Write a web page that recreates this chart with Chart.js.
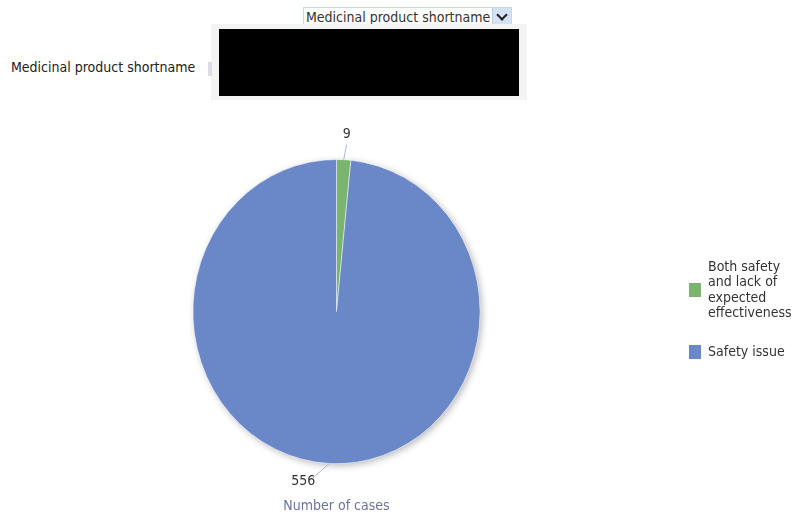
<!DOCTYPE html>
<html>
<head>
<meta charset="utf-8">
<script src="https://cdn.jsdelivr.net/npm/chart.js@4/dist/chart.umd.min.js"></script>
<style>
  html, body { margin: 0; padding: 0; background: #fff; }
  body { width: 792px; height: 515px; position: relative; overflow: hidden;
         font-family: "DejaVu Sans Condensed", "Liberation Sans Narrow", "Noto Sans", sans-serif; color: #333; }
  #wrap { position: absolute; left: 0; top: 0; width: 792px; height: 515px; }
  .dropdown { position: absolute; left: 303px; top: 7px; width: 207px; height: 18px;
              border: 1px solid #c6d6ec; font-size: 14px; line-height: 18px; color: #333; }
  .dropdown span { position: absolute; left: 2px; top: 0; }
  .dropdown .btn { position: absolute; right: 0; top: 0; width: 18px; height: 18px; background: #d3e2f5;
                   border-left: 1px solid #b9cce6; }
  .dropdown .btn i { position: absolute; left: 5px; top: 3px; width: 6px; height: 6px;
                     border-right: 2px solid #222; border-bottom: 2px solid #222; transform: rotate(45deg); }
  .prompt { position: absolute; left: 11px; top: 59px; font-size: 14px; color: #222; }
  .tab { position: absolute; left: 208px; top: 62px; width: 4px; height: 14px; background: #d9dde3; }
  .frame { position: absolute; left: 211px; top: 24px; width: 316px; height: 76px; background: #f3f3f3; }
  .blackout { position: absolute; left: 219px; top: 29px; width: 300px; height: 67px; background: #000; }
  #legend { position: absolute; left: 689px; top: 259px; font-size: 14px; line-height: 15.3px; color: #333; }
  .item { position: relative; padding-left: 19px; margin-bottom: 24px; }
  .item b { position: absolute; left: 0; width: 12px; height: 14px; }
</style>
</head>
<body>
<div class="dropdown"><span>Medicinal product shortname</span><div class="btn"><i></i></div></div>
<div class="prompt">Medicinal product shortname</div>
<div class="frame"></div>
<div class="tab"></div>
<div class="blackout"></div>
<div id="wrap"><canvas id="myChart" width="792" height="515"></canvas></div>
<div id="legend"></div>
<script>
const categories = ['Both safety and lack of expected effectiveness', 'Safety issue'];
const legendLines = [['Both safety', 'and lack of', 'expected', 'effectiveness'], ['Safety issue']];
const cases = [9, 556];
const colors = ['#79b56f', '#6a87c7'];
const seriesTitle = 'Number of cases';

// the reference pie is a bit narrower than tall
const SX = 0.944;
const FONT = '"DejaVu Sans Condensed", "Liberation Sans Narrow", sans-serif';

const squash = {
    id: 'squash',
    beforeDatasetsDraw(chart) {
        const ctx = chart.ctx;
        const arc = chart.getDatasetMeta(0).data[0];
        const cx = arc.x, cy = arc.y, r = arc.outerRadius;
        ctx.save();
        ctx.save();
        ctx.shadowColor = 'rgba(0,0,0,0.28)';
        ctx.shadowBlur = 7;
        ctx.shadowOffsetX = 2;
        ctx.shadowOffsetY = 2;
        ctx.fillStyle = '#fff';
        ctx.beginPath();
        ctx.ellipse(cx, cy, r * SX, r, 0, 0, Math.PI * 2);
        ctx.fill();
        ctx.restore();
        ctx.translate(cx, 0);
        ctx.scale(SX, 1);
        ctx.translate(-cx, 0);
    },
    afterDatasetsDraw(chart) {
        chart.ctx.restore();
    }
};

const outLabels = {
    id: 'outLabels',
    afterDraw(chart) {
        const ctx = chart.ctx;
        const meta = chart.getDatasetMeta(0);
        ctx.save();
        ctx.font = '14px ' + FONT;
        ctx.fillStyle = '#333';
        ctx.strokeStyle = '#a9b9d9';
        ctx.lineWidth = 1;
        meta.data.forEach((arc, i) => {
            const mid = (arc.startAngle + arc.endAngle) / 2;
            const sx = arc.x + Math.cos(mid) * arc.outerRadius * SX;
            const sy = arc.y + Math.sin(mid) * arc.outerRadius;
            const side = Math.cos(mid) >= 0 ? 1 : -1;
            const below = Math.sin(mid) > 0;
            let ex, ey;
            if (below) {
                ex = sx + side * 17; ey = sy + 15;
                ctx.textAlign = side > 0 ? 'left' : 'right';
                ctx.textBaseline = 'top';
            } else {
                ex = sx + side * 3; ey = sy - 15;
                ctx.textAlign = 'center';
                ctx.textBaseline = 'bottom';
            }
            ctx.beginPath();
            ctx.moveTo(sx, sy);
            ctx.lineTo(ex, ey);
            ctx.stroke();
            const ty = below ? ey - 4 : ey - 3;
            const tx = below ? ex - side * 3 : ex;
            ctx.fillText(String(chart.data.datasets[0].data[i]), tx, ty);
        });
        ctx.restore();
    }
};

const config = {
    type: 'pie',
    data: {
        labels: categories,
        datasets: [{
            label: seriesTitle,
            data: cases,
            backgroundColor: colors,
            borderColor: 'rgba(255,255,255,0.5)',
            borderWidth: 1
        }]
    },
    options: {
        responsive: false,
        animation: false,
        layout: { padding: { top: 159, bottom: 0, left: 0, right: 119 } },
        plugins: {
            legend: { display: false },
            tooltip: { enabled: false },
            title: {
                display: true,
                position: 'bottom',
                text: seriesTitle,
                color: '#6b73a3',
                font: { family: FONT, size: 14, weight: 'normal' },
                padding: { top: 34, bottom: 0 }
            }
        }
    },
    plugins: [squash, outLabels]
};

const myChart = new Chart(document.getElementById('myChart'), config);

// legend built from the same arrays
const legend = document.getElementById('legend');
categories.forEach((c, i) => {
    const item = document.createElement('div');
    item.className = 'item';
    item.title = c;
    const box = document.createElement('b');
    box.style.background = colors[i];
    box.style.top = (legendLines[i].length > 1 ? 24 : 1) + 'px';
    item.appendChild(box);
    item.innerHTML += legendLines[i].join('<br>');
    legend.appendChild(item);
});
</script>
</body>
</html>
